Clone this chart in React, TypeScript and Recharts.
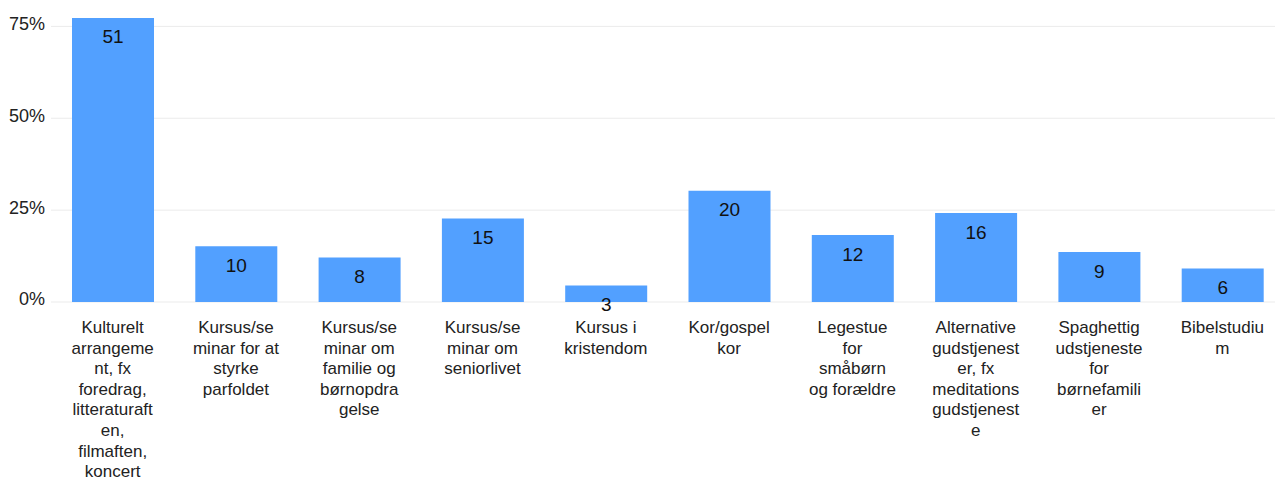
import { BarChart, Bar, XAxis, YAxis, CartesianGrid, LabelList } from "recharts";

// Survey answers: share of respondents (%) and raw counts per activity.
const categoryLines: string[][] = [
  ["Kulturelt", "arrangeme", "nt, fx", "foredrag,", "litteraturaft", "en,", "filmaften,", "koncert"],
  ["Kursus/se", "minar for at", "styrke", "parfoldet"],
  ["Kursus/se", "minar om", "familie og", "børnopdra", "gelse"],
  ["Kursus/se", "minar om", "seniorlivet"],
  ["Kursus i", "kristendom"],
  ["Kor/gospel", "kor"],
  ["Legestue", "for", "småbørn", "og forældre"],
  ["Alternative", "gudstjenest", "er, fx", "meditations", "gudstjenest", "e"],
  ["Spaghettig", "udstjeneste", "for", "børnefamili", "er"],
  ["Bibelstudiu", "m"],
];
const percents = [77.3, 15.2, 12.1, 22.7, 4.5, 30.3, 18.2, 24.2, 13.6, 9.1];
const counts = [51, 10, 8, 15, 3, 20, 12, 16, 9, 6];
const yTicks = [0, 25, 50, 75];

const data = categoryLines.map((lines, i) => ({
  name: lines.join(" "),
  pct: percents[i],
  count: counts[i],
}));

const FONT = '"Liberation Sans", Arial, sans-serif';

function CategoryTick({ x, y, payload }: { x?: number; y?: number; payload?: { index: number } }) {
  const lines = categoryLines[payload?.index ?? 0] ?? [];
  return (
    <text x={x} y={(y ?? 0) + 23} textAnchor="middle" fontSize={17} fontFamily={FONT} fill="#222">
      {lines.map((l, i) => (
        <tspan key={i} x={x} dy={i === 0 ? 0 : 20.6}>
          {l}
        </tspan>
      ))}
    </text>
  );
}

export default function App() {
  return (
    <div style={{ position: "absolute", left: 0, top: 0, width: 1275, height: 482, overflow: "hidden", background: "#fff" }}>
      <BarChart width={1284} height={482} data={data} margin={{ top: 8, right: 0, left: 0, bottom: 0 }}>
        <CartesianGrid vertical={false} stroke="#ebebeb" horizontalValues={yTicks} />
        <XAxis dataKey="name" axisLine={false} tickLine={false} height={180} interval={0} tick={<CategoryTick />} />
        <YAxis
          domain={[0, 80]}
          ticks={yTicks}
          width={51}
          axisLine={false}
          tickLine={false}
          tickMargin={0}
          tickFormatter={(v: number) => `${v}%`}
          tick={{ fontSize: 18, fontFamily: FONT, fill: "#222", dy: -3 }}
        />
        <Bar dataKey="pct" fill="#52a0ff" barSize={82} isAnimationActive={false}>
          <LabelList dataKey="count" position="insideTop" offset={12} fontSize={19} fontFamily={FONT} fill="#111" />
        </Bar>
      </BarChart>
    </div>
  );
}
